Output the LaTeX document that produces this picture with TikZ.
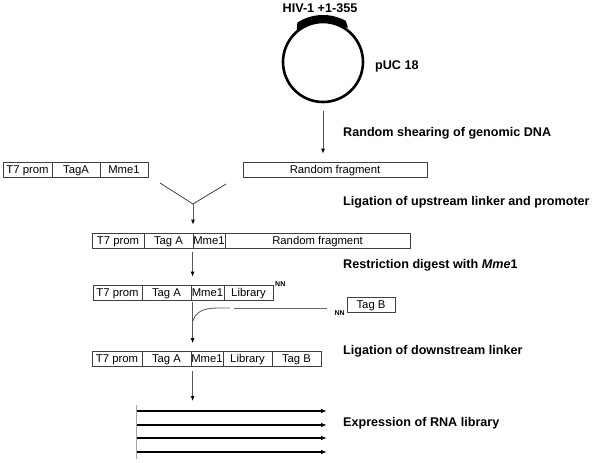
\documentclass[tikz,border=0pt]{standalone}
\usepackage{fontspec}
\setmainfont{Liberation Sans}
\usetikzlibrary{arrows.meta}

\begin{document}
\begin{tikzpicture}[x=1pt, y=1pt,
		cell_style/.style={rectangle,draw=black!75,line width=0.8pt,minimum height=15pt,inner sep=0pt,
			text height=8.2pt,text depth=0.5pt,font=\fontsize{11.3}{12}\selectfont},
		step_style/.style={anchor=west,inner sep=0pt,font=\fontsize{12.6}{14}\selectfont\bfseries},
		nn_style/.style={inner sep=0pt,font=\fontsize{7}{8}\selectfont\bfseries},
		arrow_style/.style={draw=black!65,line width=0.8pt,-{Latex[length=5pt,width=4pt,color=black]}},
		rna_style/.style={draw=black,line width=1.8pt,-{Latex[length=6pt,width=4.5pt]}},
		link_style/.style={draw=black!60,line width=0.9pt}]
		
		\useasboundingbox (0,0) rectangle (592,-463);
		
		% plasmid
		\node[circle,draw=black,line width=2.6pt,minimum size=80pt,inner sep=0pt] (plasmid) at (323,-62) {};
		\fill[black] ([shift={(323,-62)}]123:47) arc[start angle=123,end angle=61,radius=47]
			-- ([shift={(323,-62)}]54:42.5) -- ([shift={(323,-62)}]60:39.5)
			arc[start angle=60,end angle=124,radius=39.5] -- ([shift={(323,-62)}]130:41) -- cycle;
		\node[font=\fontsize{12.6}{14}\selectfont\bfseries] (hiv) at (320,-8) {HIV-1 +1-355};
		\node[anchor=base west,inner sep=0pt,font=\fontsize{12.6}{14}\selectfont\bfseries] (puc) at (375,-69.5) {pUC 18};
		
		% first row
		\node[cell_style,minimum width=49pt] (p1) at (27.5,-169.5) {T7 prom};
		\node[cell_style,minimum width=48pt] (t1) at (76,-169.5) {TagA};
		\node[cell_style,minimum width=48pt] (m1) at (124,-169.5) {Mme1};
		\node[cell_style,minimum width=184pt] (frag1) at (335,-169.5) {Random fragment};
		
		% second row
		\node[cell_style,minimum width=52pt] (r2a) at (118,-240.5) {T7 prom};
		\node[cell_style,minimum width=49pt] (r2b) at (168.5,-240.5) {Tag A};
		\node[cell_style,minimum width=32pt] (r2c) at (209,-240.5) {Mme1};
		\node[cell_style,minimum width=185pt] (r2d) at (317.5,-240.5) {Random fragment};
		
		% third row
		\node[cell_style,minimum width=49pt] (r3a) at (117.5,-292.5) {T7 prom};
		\node[cell_style,minimum width=49pt] (r3b) at (166.5,-292.5) {Tag A};
		\node[cell_style,minimum width=33pt] (r3c) at (207.5,-292.5) {Mme1};
		\node[cell_style,minimum width=49pt] (r3d) at (248.5,-292.5) {Library};
		\node[nn_style,anchor=north west] (nn_a) at (275,-281) {NN};
		
		\node[cell_style,minimum width=48pt] (tagb) at (371,-304.5) {Tag B};
		\node[nn_style,anchor=east] (nn_b) at (345,-313) {NN};
		
		% fourth row
		\node[cell_style,minimum width=50pt] (r4a) at (117,-359) {T7 prom};
		\node[cell_style,minimum width=49pt] (r4b) at (166.5,-359) {Tag A};
		\node[cell_style,minimum width=32pt] (r4c) at (207,-359) {Mme1};
		\node[cell_style,minimum width=49pt] (r4d) at (247.5,-359) {Library};
		\node[cell_style,minimum width=49pt] (r4e) at (296.5,-359) {Tag B};
		
		% steps
		\node[step_style] (s1) at (343,-133) {Random shearing of genomic DNA};
		\node[step_style] (s2) at (343,-202) {Ligation of upstream linker and promoter};
		\node[step_style] (s3) at (343,-265) {Restriction digest with \textit{Mme}1};
		\node[step_style] (s4) at (343,-351) {Ligation of downstream linker};
		\node[step_style] (s5) at (343,-423) {Expression of RNA library};
		
		\coordinate (v_left) at (160,-183);
		\coordinate (v_right) at (226,-184);
		\coordinate (v_join) at (193,-204);
		\coordinate (c_start) at (193,-321);
		\coordinate (c_end) at (230,-308);
		\coordinate (l_start) at (234,-308);
		\coordinate (l_end) at (327,-308);
		\coordinate (rs1) at (137,-411);
		\coordinate (re1) at (327,-411);
		\coordinate (rs2) at (137,-425);
		\coordinate (re2) at (327,-425);
		\coordinate (rs3) at (137,-438);
		\coordinate (re3) at (327,-438);
		\coordinate (rs4) at (137,-452);
		\coordinate (re4) at (327,-452);
		\coordinate (tick_top) at (136,-405);
		\coordinate (tick_bot) at (136,-459);
		
		\draw[arrow_style,shorten <=8pt,shorten >=8pt] (plasmid.south) -- (plasmid.south |- frag1.north);
		\draw[draw=black!75,line width=0.8pt] (v_left) -- (v_join) -- (v_right);
		\draw[arrow_style,shorten >=8pt] (v_join) -- (v_join |- r2c.north);
		\draw[arrow_style,shorten <=4pt,shorten >=8pt] (r2c.south west) -- (r2c.south west |- r3c.north);
		\draw[arrow_style,shorten <=2pt,shorten >=8pt] (r2c.south west |- r3c.south) -- (r2c.south west |- r4c.north);
		\draw[link_style] (c_start) to[out=75,in=180] (c_end);
		\draw[link_style] (l_start) -- (l_end);
		\draw[arrow_style,shorten <=4pt,shorten >=10pt] (r2c.south west |- r4c.south) -- (r2c.south west |- rs1);
		
		\draw[draw=black!35,line width=0.6pt] (tick_top) -- (tick_bot);
		\draw[rna_style] (rs1) -- (re1);
		\draw[rna_style] (rs2) -- (re2);
		\draw[rna_style] (rs3) -- (re3);
		\draw[rna_style] (rs4) -- (re4);
		
\end{tikzpicture}
\end{document}
